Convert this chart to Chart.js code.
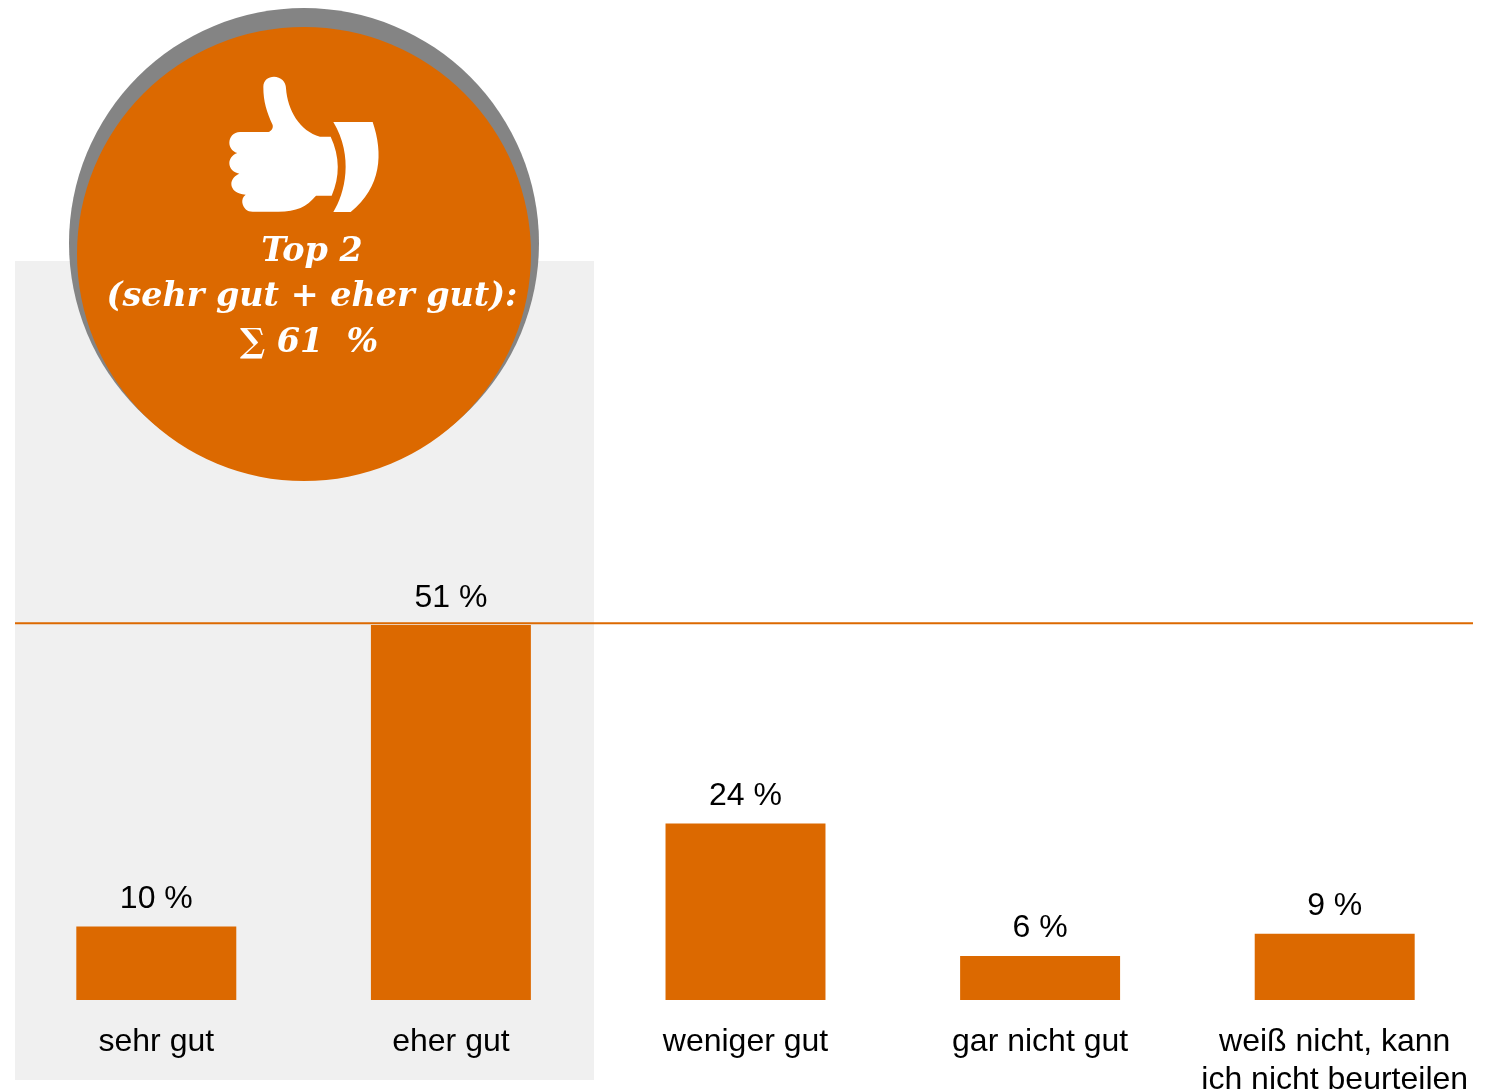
<!DOCTYPE html>
<html>
<head>
<meta charset="utf-8">
<style>
  html, body { margin: 0; padding: 0; background: #fff; overflow: hidden; }
  canvas { display: block; }
</style>
<script src="https://cdn.jsdelivr.net/npm/chart.js@4/dist/chart.umd.min.js"></script>
</head>
<body>
<canvas id="grafica" width="1494" height="1091"></canvas>
<script>
const categorias = ['sehr gut', 'eher gut', 'weniger gut', 'gar nicht gut', ['weiß nicht, kann', 'ich nicht beurteilen']];
const valores = [10, 51, 24, 6, 9];
const valorLinea = 51.25;
const textoCirculo = ['Top 2', '(sehr gut + eher gut):', '∑ 61  %'];

const naranja = '#DC6900';
const fuenteSans = '"Liberation Sans", Arial, sans-serif';
const fuenteSerif = '"DejaVu Serif", Georgia, serif';

// fondo gris de las dos primeras categorias
const fondo = {
  id: 'fondo',
  beforeDraw(chart) {
    const ctx = chart.ctx;
    ctx.save();
    ctx.fillStyle = '#F0F0F0';
    ctx.fillRect(15, 261, 579, 819);
    ctx.restore();
  }
};

// etiquetas encima de las barras, linea y circulo
const extras = {
  id: 'extras',
  afterDatasetsDraw(chart) {
    const ctx = chart.ctx;
    const y = chart.scales.y;
    const barras = chart.getDatasetMeta(0).data;

    ctx.save();
    ctx.fillStyle = '#000';
    ctx.font = '32px ' + fuenteSans;
    ctx.textAlign = 'center';
    ctx.textBaseline = 'alphabetic';
    barras.forEach(function (barra, i) {
      ctx.fillText(valores[i] + ' %', barra.x, barra.y - 18.5);
    });

    ctx.strokeStyle = naranja;
    ctx.lineWidth = 2;
    ctx.beginPath();
    ctx.moveTo(15, y.getPixelForValue(valorLinea));
    ctx.lineTo(1473, y.getPixelForValue(valorLinea));
    ctx.stroke();

    ctx.fillStyle = '#848484';
    ctx.beginPath();
    ctx.arc(304, 243, 235, 0, Math.PI * 2);
    ctx.fill();
    ctx.fillStyle = naranja;
    ctx.beginPath();
    ctx.arc(304, 254, 227, 0, Math.PI * 2);
    ctx.fill();

    // pulgar
    ctx.save();
    ctx.translate(200, 60);
    ctx.scale(1 / 3, 1 / 3);
    ctx.fillStyle = '#fff';
    ctx.fill(new Path2D('M190 80C190 60 205 50 222 50C242 50 258 65 258 85C262 150 300 215 360 230L392 230C420 290 420 350 395 407L348 407C320 440 290 455 235 455L158 455C142 455 130 445 127 428C126 420 128 410 137 404C110 403 94 388 94 372C94 358 105 346 118 341C100 338 88 325 88 310C88 297 96 285 112 279C98 275 88 262 88 248C88 232 100 216 120 216L205 216C214 214 220 205 218 195C200 155 190 125 190 80Z'));
    ctx.fill(new Path2D('M400 186L518 186C550 280 545 380 452 456L400 456C435 400 462 290 400 186Z'));
    ctx.restore();

    ctx.fillStyle = '#fff';
    ctx.font = 'italic bold 33.4px ' + fuenteSerif;
    ctx.fillText(textoCirculo[0], 312, 261);
    ctx.fillText(textoCirculo[1], 312, 306);
    ctx.fillText(textoCirculo[2], 309, 352);
    ctx.restore();
  }
};

new Chart(document.getElementById('grafica'), {
  type: 'bar',
  data: {
    labels: categorias,
    datasets: [{
      data: valores,
      backgroundColor: naranja,
      barPercentage: 0.543,
      categoryPercentage: 1
    }]
  },
  options: {
    responsive: false,
    animation: false,
    layout: { padding: { left: 9, right: 12, top: 0, bottom: 0 } },
    plugins: { legend: { display: false }, tooltip: { enabled: false } },
    scales: {
      y: { display: false, min: 0, max: 136 },
      x: {
        afterFit(escala) { escala.height = 91; },
        grid: { display: false },
        border: { display: false },
        ticks: {
          color: '#000',
          maxRotation: 0,
          autoSkip: false,
          padding: 15,
          font: { family: fuenteSans, size: 32, lineHeight: 1.2 }
        }
      }
    }
  },
  plugins: [fondo, extras]
});
</script>
</body>
</html>
